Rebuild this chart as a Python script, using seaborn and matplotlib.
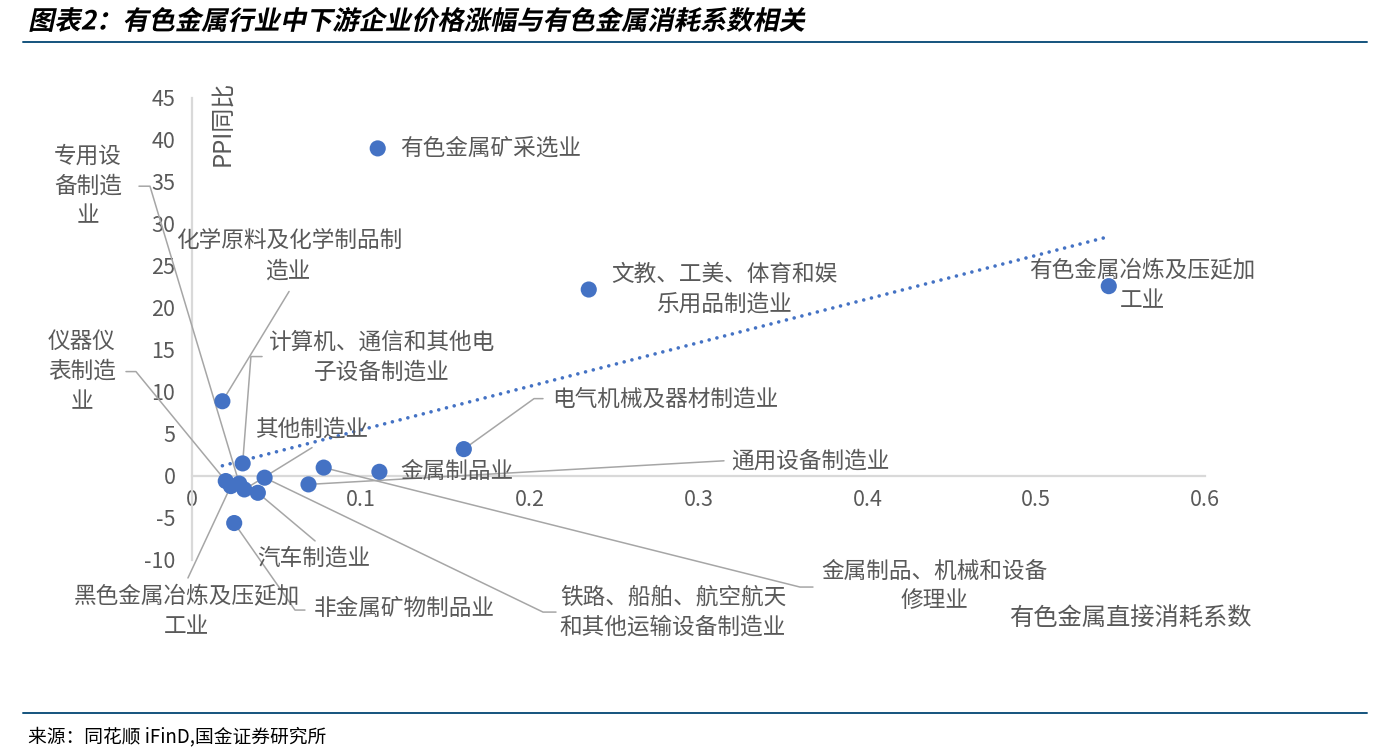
import matplotlib
matplotlib.use('Agg')
import matplotlib.pyplot as plt
import seaborn as sns
import numpy as np
import pandas as pd
from matplotlib.lines import Line2D
from matplotlib.patheffects import AbstractPathEffect
from matplotlib.transforms import Affine2D

# Industry data: non-ferrous metal direct consumption coefficient vs PPI yoy
industries = [
    '有色金属矿采选业',
    '文教、工美、体育和娱\n乐用品制造业',
    '有色金属冶炼及压延加\n工业',
    '化学原料及化学制品制\n造业',
    '计算机、通信和其他电\n子设备制造业',
    '电气机械及器材制造业',
    '金属制品、机械和设备\n修理业',
    '金属制品业',
    '通用设备制造业',
    '铁路、船舶、航空航天\n和其他运输设备制造业',
    '汽车制造业',
    '其他制造业',
    '专用设\n备制造\n业',
    '黑色金属冶炼及压延加\n工业',
    '仪器仪\n表制造\n业',
    '非金属矿物制品业',
]
consumption = [0.110, 0.235, 0.543, 0.018, 0.030, 0.161, 0.078, 0.111,
               0.069, 0.043, 0.039, 0.031, 0.028, 0.023, 0.020, 0.025]
ppi_yoy = [39.0, 22.2, 22.6, 8.9, 1.5, 3.2, 1.0, 0.5,
           -1.0, -0.2, -2.0, -1.6, -0.9, -1.2, -0.6, -5.6]

x_ticks = [0, 0.1, 0.2, 0.3, 0.4, 0.5, 0.6]
x_tick_labels = ['0', '0.1', '0.2', '0.3', '0.4', '0.5', '0.6']
y_ticks = list(range(-10, 50, 5))

df = pd.DataFrame({'name': industries, 'x': consumption, 'y': ppi_yoy})

# label placement (data coords): text anchor, alignment, leader-line elbow points
label_layout = {
    0: ((0.1232, 39.0), 'left', []),
    1: ((0.3151, 22.25), 'center', []),
    2: ((0.5627, 22.69), 'center', []),
    3: ((0.0575, 26.2), 'center', [(0.0575, 21.97)]),
    4: ((0.1125, 14.2), 'center', [(0.0415, 14.22), (0.0349, 14.22)]),
    5: ((0.2132, 9.1), 'left', [(0.2079, 9.21), (0.2026, 9.21)]),
    6: ((0.4395, -13.1), 'center', [(0.3678, -13.22), (0.3601, -13.22)]),
    7: ((0.1232, 0.5), 'left', []),
    8: ((0.366, 1.81), 'center', [(0.3151, 1.81)]),
    9: ((0.2849, -16.2), 'center', [(0.2156, -16.2), (0.2079, -16.2)]),
    10: ((0.0723, -9.76), 'center', [(0.0729, -7.73)]),
    11: ((0.0711, 5.63), 'center', [(0.0711, 3.38)]),
    12: ((-0.0616, 34.5), 'center', [(-0.0314, 34.5), (-0.0249, 34.5)]),
    13: ((-0.003, -16.2), 'center', [(-0.0024, -12.14)]),
    14: ((-0.0652, 12.43), 'center', [(-0.0391, 12.43), (-0.0332, 12.43)]),
    15: ((0.0723, -15.72), 'left', [(0.0669, -15.96), (0.061, -15.96)]),
}


class Slant(AbstractPathEffect):
    """fake italic for CJK text by skewing glyph paths around the baseline"""
    def __init__(self, deg=12):
        super().__init__()
        self.deg = deg

    def draw_path(self, renderer, gc, tpath, affine, rgbFace=None):
        renderer.draw_path(gc, tpath, Affine2D().skew_deg(self.deg, 0) + affine, rgbFace)


sns.set_theme(style='white')
plt.rcParams['font.family'] = ['Noto Sans CJK SC', 'DejaVu Sans']
plt.rcParams['axes.unicode_minus'] = False

BLUE = '#4472C4'
GRAY_TXT = '#595959'
AXIS_GRAY = '#d9d9d9'
LEADER = '#a6a6a6'

fig = plt.figure(figsize=(13.85, 7.55), dpi=100)
ax = fig.add_axes([192 / 1385, 195 / 755, 1013 / 1385, 462 / 755])
ax.set_facecolor('none')

# leader lines
for i, row in df.iterrows():
    (tx, ty), ha, elbows = label_layout[i]
    if elbows:
        xs = [p[0] for p in elbows] + [row['x']]
        ys = [p[1] for p in elbows] + [row['y']]
        ax.add_line(Line2D(xs, ys, color=LEADER, lw=1.1, zorder=2, clip_on=False))

# linear trendline over data range
k, b = np.polyfit(df['x'], df['y'], 1)
xt = np.array([df['x'].min(), df['x'].max()])
ax.plot(xt, k * xt + b, color=BLUE, lw=2.6, linestyle=(0, (0.01, 2.2)),
        dash_capstyle='round', zorder=3)

sns.scatterplot(data=df, x='x', y='y', ax=ax, color=BLUE, s=135,
                edgecolor='none', zorder=4, legend=False)

for i, row in df.iterrows():
    (tx, ty), ha, elbows = label_layout[i]
    ax.text(tx, ty, row['name'], ha=ha, va='center', fontsize=16.3,
            color=GRAY_TXT, linespacing=1.38, zorder=5)

ax.set_xlim(0, 0.6)
ax.set_ylim(-10, 45)
ax.set_xticks(x_ticks)
ax.set_xticklabels(x_tick_labels)
ax.set_yticks(y_ticks)
ax.set_xlabel('')
ax.set_ylabel('')
ax.tick_params(axis='both', length=0, labelsize=15.5, labelcolor=GRAY_TXT)
ax.tick_params(axis='y', pad=12)
ax.tick_params(axis='x', pad=9)

for s in ['top', 'right']:
    ax.spines[s].set_visible(False)
ax.spines['bottom'].set_position(('data', 0))
for s in ['left', 'bottom']:
    ax.spines[s].set_color(AXIS_GRAY)
    ax.spines[s].set_linewidth(1.6)
    ax.spines[s].set_zorder(1)
ax.grid(False)

ax.text(0.0296, 0.944, 'PPI同比', transform=ax.transAxes, rotation=90,
        ha='center', va='center', fontsize=17.3, color=GRAY_TXT)
ax.text(0.926, -0.126, '有色金属直接消耗系数', transform=ax.transAxes,
        ha='center', va='center', fontsize=17.5, color=GRAY_TXT)

# header / footer
fig.text(28 / 1385, 1 - 22 / 755, '图表2：有色金属行业中下游企业价格涨幅与有色金属消耗系数相关',
         ha='left', va='center', fontsize=18.9, fontweight='bold', color='black',
         path_effects=[Slant(12)])
fig.add_artist(Line2D([23 / 1385, 1367 / 1385], [1 - 42 / 755] * 2,
                      color='#14537d', lw=1.4))
fig.add_artist(Line2D([23 / 1385, 1367 / 1385], [1 - 713 / 755] * 2,
                      color='#14537d', lw=1.4))
fig.text(28 / 1385, 1 - 737 / 755, '来源：同花顺 iFinD,国金证券研究所',
         ha='left', va='center', fontsize=13.5, color='black')

fig.savefig('out.png', dpi=100, facecolor='white')
